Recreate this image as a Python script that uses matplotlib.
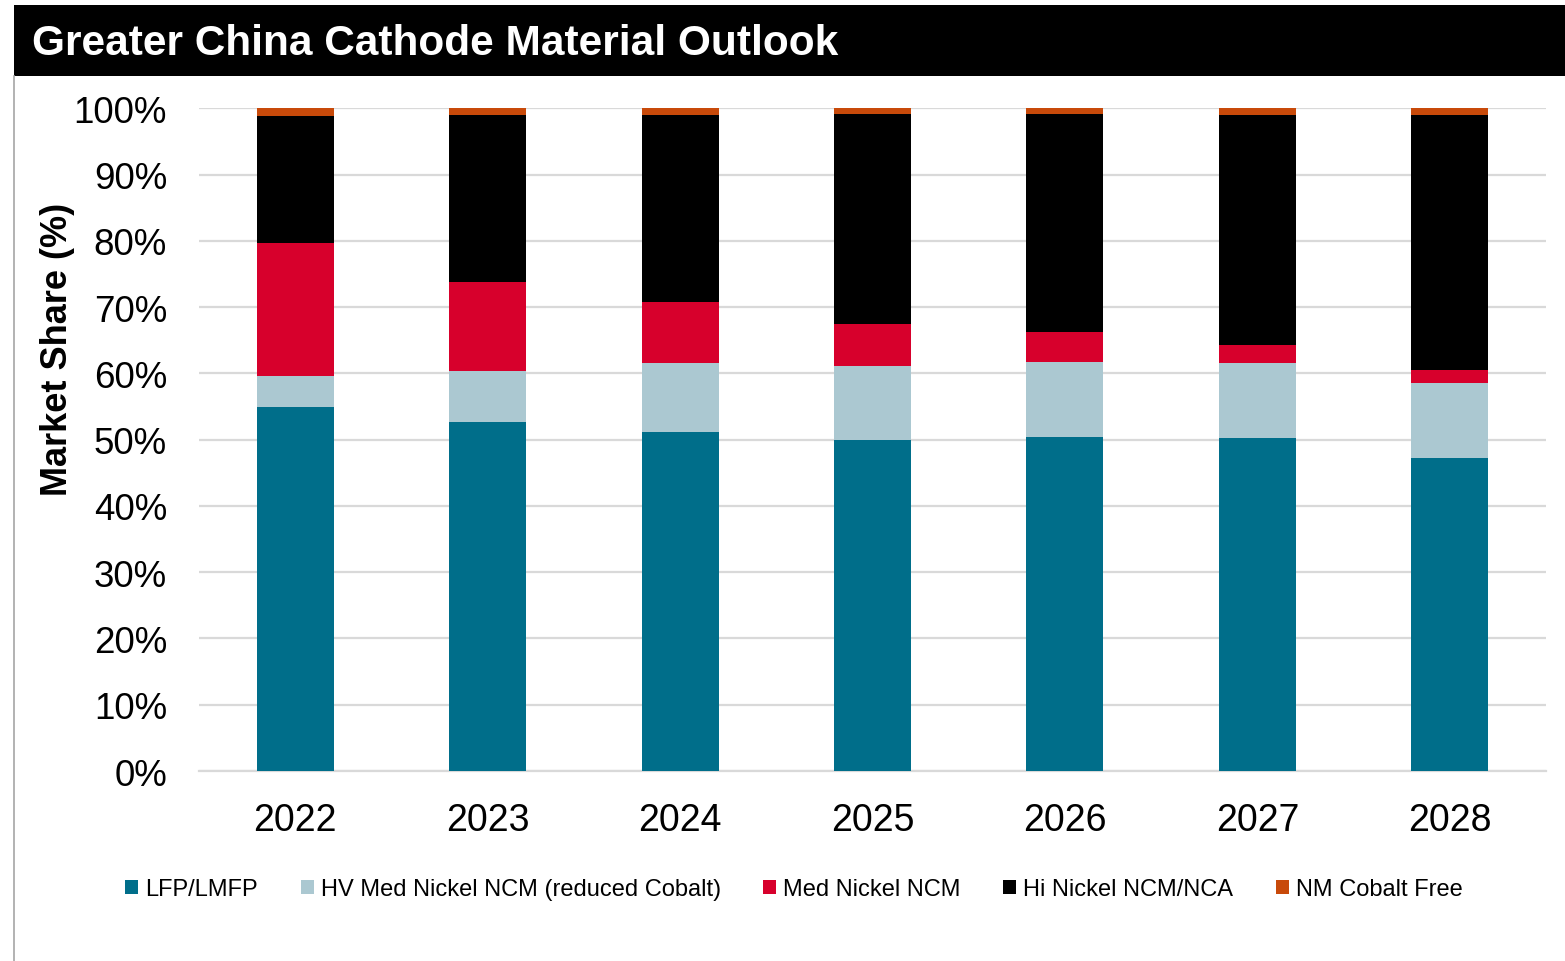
import matplotlib
matplotlib.use("Agg")
import matplotlib.pyplot as plt
from matplotlib.patches import Rectangle
import numpy as np

plt.rcParams['font.family'] = ['Liberation Sans', 'DejaVu Sans']

years = ["2022", "2023", "2024", "2025", "2026", "2027", "2028"]
series_names = ["LFP/LMFP", "HV Med Nickel NCM (reduced Cobalt)", "Med Nickel NCM",
                "Hi Nickel NCM/NCA", "NM Cobalt Free"]
lfp = [55.0, 52.7, 51.1, 49.9, 50.4, 50.2, 47.2]
hv_med_nickel = [4.6, 7.6, 10.4, 11.2, 11.3, 11.3, 11.3]
med_nickel = [20.1, 13.5, 9.3, 6.4, 4.6, 2.8, 2.0]
hi_nickel = [19.2, 25.2, 28.2, 31.6, 32.8, 34.75, 38.5]
nm_cobalt_free = [1.1, 1.0, 1.0, 0.9, 0.9, 0.95, 1.0]
colors = ["#006E8A", "#ABC8D1", "#D7002C", "#000000", "#C84A0A"]

fig = plt.figure(figsize=(15.65, 9.62), dpi=100)
W, H = 1565, 962

# Header band with title
fig.patches.append(Rectangle((14 / W, 1 - 77 / H), 1 - 14 / W, 71 / H,
                             transform=fig.transFigure, facecolor="black",
                             edgecolor="none", zorder=0))
fig.text(32 / W, 1 - 44 / H, "Greater China Cathode Material Outlook",
         color="white", fontsize=30.5, fontweight="bold", va="center", ha="left")
# Thin frame line on the left
fig.add_artist(plt.Line2D([14 / W, 14 / W], [0, 1 - 77 / H], transform=fig.transFigure,
                          color="#A6A6A6", linewidth=1.2))

ax = fig.add_axes([199 / W, 1 - 772 / H, 1347 / W, (772 - 109.3) / H])

x = np.arange(len(years))
bottom = np.zeros(len(years))
handles = []
for name, vals, c in zip(series_names,
                         [lfp, hv_med_nickel, med_nickel, hi_nickel, nm_cobalt_free],
                         colors):
    v = np.array(vals) / 100.0
    b = ax.bar(x, v, width=0.4, bottom=bottom, color=c, label=name,
               edgecolor="none", zorder=3)
    handles.append(b)
    bottom += v

ax.set_xlim(-0.5, len(years) - 0.5)
ax.set_ylim(0, 1.0)
ax.set_yticks(np.arange(0, 1.01, 0.1))
ax.set_yticklabels([f"{int(round(t * 100))}%" for t in np.arange(0, 1.01, 0.1)],
                   fontsize=26.5)
ax.set_xticks(x)
ax.set_xticklabels(years, fontsize=27)
ax.tick_params(axis="both", length=0)
ax.tick_params(axis="y", pad=23)
ax.tick_params(axis="x", pad=22.5)

ax.yaxis.grid(True, color="#D9D9D9", linewidth=1.6, zorder=0)
ax.set_axisbelow(True)
for s in ["top", "right", "left"]:
    ax.spines[s].set_visible(False)
ax.spines["bottom"].set_color("#D9D9D9")
ax.spines["bottom"].set_linewidth(1.6)

ax.set_ylabel("Market Share (%)", fontsize=26, fontweight="bold")
ax.yaxis.set_label_coords(-0.092, 0.638)

fig.legend(handles=handles, labels=series_names, loc="center",
           bbox_to_anchor=(794 / W, 1 - 890 / H), ncol=5, frameon=False,
           fontsize=17, handlelength=0.55, handleheight=0.55, handletextpad=0.3,
           columnspacing=1.8, borderaxespad=0)

fig.savefig("out.png", dpi=100, facecolor="white")
